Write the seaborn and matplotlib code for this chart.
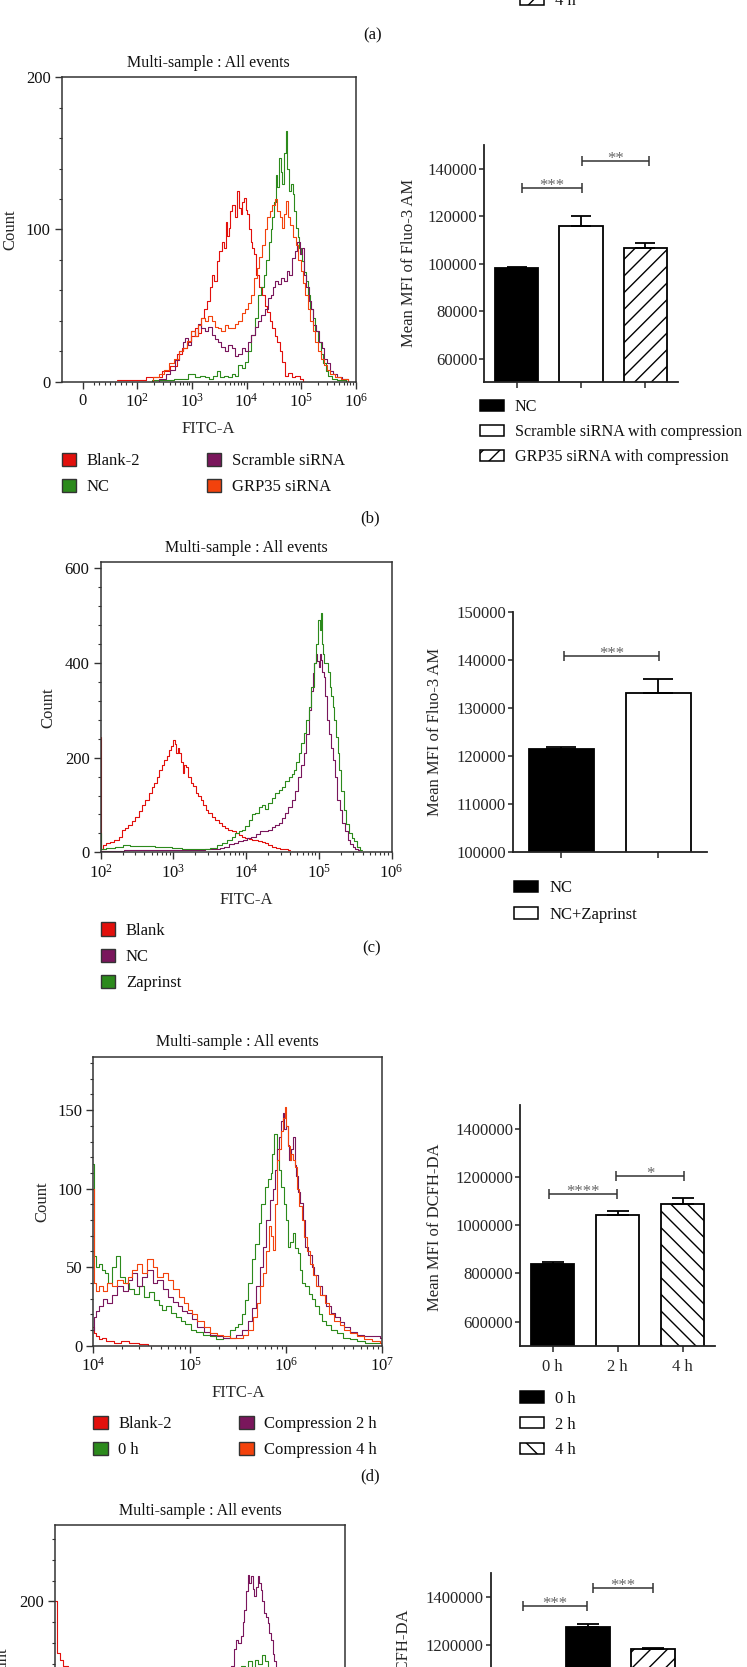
import numpy as np
import matplotlib
matplotlib.use("Agg")
import matplotlib.pyplot as plt
import matplotlib.ticker as mticker
from matplotlib.patches import Patch
import seaborn as sns

# ---------------- data (x as log10 FITC-A, y as count) ----------------
# panel (b) histograms
b_blank_dec = [1.8, 2.35, 2.53, 2.65, 2.78, 2.87, 2.96, 3.02, 3.08, 3.14, 3.2, 3.25, 3.3, 3.35, 3.39, 3.43,
               3.48, 3.52, 3.57, 3.6, 3.63, 3.66, 3.69, 3.72, 3.76, 3.8, 3.85, 3.88, 3.91, 3.94, 3.97, 4.0,
               4.03, 4.06, 4.09, 4.12, 4.15, 4.21, 4.26, 4.31, 4.36, 4.4, 4.45, 4.49, 4.54, 4.58, 4.63, 4.67,
               4.73, 4.8, 4.86, 4.93, 5.01, 5.07]
b_blank_cnt = [1, 3, 7, 10, 18, 22, 26, 30, 35, 32, 42, 48, 53, 62, 70, 66,
               79, 86, 92, 88, 105, 96, 101, 112, 116, 108, 125, 114, 110, 118, 121, 113,
               110, 100, 92, 88, 84, 70, 62, 57, 50, 46, 40, 35, 30, 26, 20, 13,
               4, 6, 3, 4, 2, 0]
b_nc_dec = [1.8, 2.5, 2.8, 3.02, 3.1, 3.2, 3.27, 3.35, 3.42, 3.48, 3.55, 3.62, 3.7, 3.76, 3.82, 3.88,
            3.94, 4.0, 4.06, 4.12, 4.18, 4.24, 4.29, 4.34, 4.39, 4.43, 4.46, 4.49, 4.52, 4.55, 4.58, 4.61,
            4.64, 4.67, 4.7, 4.73, 4.76, 4.8, 4.83, 4.86, 4.89, 4.92, 4.95, 4.98, 5.01, 5.04, 5.07, 5.1,
            5.15, 5.19, 5.24, 5.28, 5.33, 5.38, 5.43, 5.47, 5.53, 5.59, 5.71, 5.9]
b_nc_cnt = [0, 1, 2, 5, 3, 4, 3, 2, 4, 7, 3, 4, 3, 5, 4, 11,
            9, 13, 20, 31, 42, 57, 62, 70, 80, 92, 100, 108, 118, 136, 128, 147,
            138, 130, 150, 165, 140, 125, 130, 123, 112, 101, 95, 88, 84, 79, 72, 66,
            57, 48, 42, 33, 26, 18, 12, 7, 4, 2, 1, 0]
b_scr_dec = [2.3, 2.47, 2.56, 2.65, 2.73, 2.81, 2.86, 2.9, 2.96, 3.02, 3.08, 3.14, 3.2, 3.27, 3.33, 3.39,
             3.45, 3.51, 3.57, 3.63, 3.7, 3.76, 3.82, 3.88, 3.94, 4.0, 4.06, 4.12, 4.18, 4.24, 4.3, 4.37,
             4.42, 4.46, 4.5, 4.55, 4.6, 4.67, 4.72, 4.76, 4.81, 4.86, 4.9, 4.95, 5.01, 5.04, 5.07, 5.12,
             5.16, 5.2, 5.25, 5.3, 5.35, 5.4, 5.44, 5.5, 5.56, 5.62, 5.68, 5.8, 5.9]
b_scr_cnt = [0, 2, 5, 8, 14, 20, 26, 29, 24, 33, 30, 38, 35, 33, 36, 31,
             28, 26, 23, 20, 24, 22, 17, 18, 22, 20, 26, 31, 36, 40, 44, 48,
             55, 57, 62, 66, 64, 68, 66, 73, 70, 81, 86, 92, 84, 88, 70, 62,
             53, 48, 37, 33, 26, 22, 15, 12, 7, 5, 3, 2, 0]
b_grp_dec = [2.2, 2.35, 2.45, 2.53, 2.62, 2.72, 2.8, 2.87, 2.95, 3.02, 3.08, 3.14, 3.2, 3.27, 3.33, 3.39,
             3.45, 3.51, 3.57, 3.63, 3.7, 3.76, 3.82, 3.88, 3.94, 4.0, 4.06, 4.12, 4.17, 4.21, 4.26, 4.31,
             4.36, 4.4, 4.45, 4.49, 4.54, 4.58, 4.63, 4.67, 4.7, 4.73, 4.78, 4.83, 4.88, 4.92, 4.97, 5.01,
             5.06, 5.1, 5.15, 5.19, 5.24, 5.28, 5.33, 5.38, 5.44, 5.5, 5.57, 5.65, 5.8, 5.9]
b_grp_cnt = [0, 3, 5, 8, 12, 15, 20, 22, 27, 33, 30, 37, 42, 40, 43, 40,
             36, 35, 33, 37, 35, 35, 38, 40, 45, 48, 52, 57, 68, 75, 82, 90,
             100, 108, 112, 116, 120, 112, 108, 101, 110, 119, 108, 103, 95, 90, 80, 73,
             65, 57, 48, 40, 33, 26, 20, 15, 11, 8, 5, 3, 2, 0]

# panel (c) histograms
c_blank_dec = [2.0, 2.01, 2.05, 2.1, 2.15, 2.22, 2.27, 2.31, 2.36, 2.4, 2.45, 2.5, 2.55, 2.59, 2.64, 2.68,
               2.72, 2.75, 2.79, 2.82, 2.86, 2.89, 2.92, 2.95, 2.98, 3.0, 3.03, 3.05, 3.07, 3.09, 3.12, 3.14,
               3.16, 3.18, 3.22, 3.25, 3.29, 3.32, 3.36, 3.39, 3.43, 3.46, 3.5, 3.55, 3.6, 3.64, 3.69, 3.73,
               3.78, 3.83, 3.88, 3.92, 3.97, 4.01, 4.06, 4.1, 4.15, 4.19, 4.24, 4.28, 4.33, 4.38, 4.44, 4.49,
               4.55, 4.61]
c_blank_cnt = [244, 8, 15, 19, 22, 26, 33, 47, 52, 58, 66, 75, 88, 100, 110, 125,
               138, 146, 160, 174, 185, 195, 203, 216, 225, 237, 228, 209, 220, 209, 190, 167,
               185, 181, 160, 146, 140, 125, 118, 111, 100, 89, 82, 75, 68, 61, 55, 51,
               47, 44, 40, 37, 33, 30, 28, 26, 25, 23, 21, 19, 15, 12, 10, 8,
               6, 5]
c_nc_dec = [2.0, 2.5, 3.0, 3.37, 3.5, 3.6, 3.67, 3.73, 3.8, 3.86, 3.92, 3.98, 4.04, 4.1, 4.16, 4.22,
            4.28, 4.33, 4.38, 4.42, 4.47, 4.52, 4.56, 4.6, 4.65, 4.69, 4.74, 4.78, 4.81, 4.84, 4.88, 4.91,
            4.93, 4.95, 4.97, 4.99, 5.01, 5.03, 5.04, 5.06, 5.08, 5.1, 5.13, 5.16, 5.18, 5.2, 5.24, 5.27,
            5.3, 5.34, 5.38, 5.41, 5.45, 5.48, 5.52, 5.57]
c_nc_cnt = [3, 4, 5, 5, 6, 8, 10, 12, 17, 20, 23, 26, 30, 33, 38, 44,
            44, 48, 54, 57, 62, 72, 82, 96, 110, 130, 160, 185, 209, 250, 301, 340,
            378, 400, 420, 405, 392, 420, 406, 380, 371, 330, 280, 250, 220, 195, 160, 111,
            90, 61, 45, 26, 18, 12, 8, 5]
c_zap_dec = [2.0, 2.01, 2.13, 2.25, 2.35, 2.45, 2.55, 2.68, 2.8, 2.91, 3.05, 3.18, 3.3, 3.46, 3.55, 3.64,
             3.7, 3.78, 3.83, 3.87, 3.92, 3.96, 4.01, 4.06, 4.1, 4.15, 4.2, 4.24, 4.28, 4.33, 4.38, 4.42,
             4.47, 4.51, 4.56, 4.61, 4.64, 4.67, 4.71, 4.74, 4.78, 4.81, 4.85, 4.88, 4.91, 4.95, 4.98, 5.0,
             5.02, 5.03, 5.05, 5.06, 5.09, 5.11, 5.14, 5.16, 5.18, 5.2, 5.23, 5.25, 5.27, 5.29, 5.33, 5.36,
             5.4, 5.43, 5.47, 5.5, 5.55, 5.59]
c_zap_cnt = [40, 8, 10, 12, 15, 14, 13, 13, 11, 11, 9, 8, 7, 6, 10, 15,
             20, 26, 33, 40, 45, 47, 55, 68, 80, 82, 96, 100, 92, 104, 115, 125,
             132, 139, 150, 160, 165, 174, 190, 209, 230, 251, 280, 308, 350, 399, 440, 491,
             470, 505, 440, 420, 400, 399, 380, 350, 330, 308, 280, 244, 210, 174, 130, 89,
             60, 40, 30, 23, 12, 5]

# panel (d) histograms
d_blank_dec = [4.0, 4.01, 4.04, 4.07, 4.1, 4.17, 4.25, 4.32, 4.42, 4.52, 4.62, 4.7]
d_blank_cnt = [12, 8, 6, 4, 5, 3, 2, 3, 1.5, 1, 0, 0]
d_0h_dec = [4.0, 4.01, 4.04, 4.07, 4.1, 4.14, 4.17, 4.22, 4.26, 4.3, 4.35, 4.4, 4.45, 4.5, 4.55, 4.6,
            4.66, 4.7, 4.73, 4.78, 4.83, 4.88, 4.93, 4.98, 5.04, 5.1, 5.18, 5.24, 5.31, 5.38, 5.45, 5.49,
            5.52, 5.56, 5.59, 5.63, 5.66, 5.7, 5.73, 5.76, 5.8, 5.83, 5.85, 5.87, 5.89, 5.92, 5.94, 5.96,
            5.99, 6.01, 6.03, 6.06, 6.08, 6.11, 6.13, 6.16, 6.18, 6.22, 6.25, 6.29, 6.32, 6.36, 6.39, 6.44,
            6.49, 6.56, 6.63, 6.7, 6.77, 6.87, 6.98]
d_0h_cnt = [116, 57, 50, 52, 48, 46, 40, 50, 57, 44, 40, 36, 33, 38, 31, 34,
            29, 26, 23, 25, 21, 18, 16, 14, 10, 9, 7, 6, 4, 5, 10, 12,
            14, 20, 29, 40, 55, 65, 78, 90, 101, 106, 110, 122, 135, 118, 112, 101,
            90, 80, 63, 66, 72, 62, 59, 48, 40, 38, 33, 30, 25, 20, 16, 13,
            10, 8, 5, 4, 3, 2, 1.5]
d_2h_dec = [4.0, 4.01, 4.04, 4.07, 4.12, 4.17, 4.22, 4.28, 4.33, 4.38, 4.43, 4.48, 4.53, 4.59, 4.64, 4.69,
            4.75, 4.8, 4.85, 4.9, 4.95, 5.0, 5.05, 5.11, 5.18, 5.25, 5.32, 5.38, 5.45, 5.52, 5.57, 5.63,
            5.67, 5.71, 5.75, 5.78, 5.81, 5.85, 5.88, 5.9, 5.92, 5.94, 5.96, 5.97, 5.99, 6.01, 6.03, 6.04,
            6.06, 6.08, 6.1, 6.11, 6.14, 6.16, 6.19, 6.21, 6.25, 6.28, 6.31, 6.35, 6.4, 6.44, 6.49, 6.53,
            6.58, 6.63, 6.7, 6.77, 6.85, 6.94, 7.0]
d_2h_cnt = [10, 18, 22, 25, 30, 27, 32, 38, 35, 42, 46, 38, 44, 48, 40, 42,
            36, 31, 28, 25, 22, 21, 17, 12, 9, 7, 6, 5, 5, 7, 10, 16,
            24, 38, 50, 63, 80, 93, 100, 112, 125, 133, 143, 148, 138, 140, 128, 118,
            125, 133, 115, 108, 98, 91, 80, 63, 58, 50, 45, 38, 32, 25, 21, 18,
            15, 12, 9, 7, 6, 6, 5]
d_4h_dec = [4.0, 4.01, 4.04, 4.07, 4.12, 4.17, 4.22, 4.28, 4.33, 4.38, 4.43, 4.48, 4.53, 4.59, 4.64, 4.69,
            4.75, 4.8, 4.86, 4.92, 4.96, 5.0, 5.05, 5.11, 5.18, 5.25, 5.32, 5.38, 5.45, 5.52, 5.58, 5.64,
            5.68, 5.71, 5.75, 5.78, 5.81, 5.83, 5.86, 5.88, 5.9, 5.92, 5.94, 5.96, 5.98, 5.99, 6.01, 6.03,
            6.05, 6.06, 6.08, 6.1, 6.12, 6.15, 6.18, 6.2, 6.23, 6.27, 6.3, 6.33, 6.38, 6.42, 6.47, 6.53,
            6.58, 6.63, 6.7, 6.77, 6.85, 6.94, 7.0]
d_4h_cnt = [100, 40, 35, 38, 35, 40, 38, 42, 40, 44, 48, 52, 46, 55, 50, 44,
            46, 42, 36, 31, 27, 23, 20, 16, 12, 8, 7, 6, 5, 5, 7, 10,
            18, 27, 38, 46, 60, 76, 70, 61, 90, 118, 125, 137, 145, 152, 140, 127,
            118, 122, 118, 114, 100, 89, 80, 69, 60, 52, 45, 38, 32, 27, 20, 16,
            13, 10, 8, 6, 4, 3, 2]

# panel (e) histograms (only the top is in view)
e_red_dec = [2.0, 2.06, 2.11, 2.17, 2.26, 2.4, 2.6]
e_red_cnt = [200, 151, 144, 138, 110, 60, 20]
e_purple_dec = [4.4, 4.7, 4.9, 5.0, 5.07, 5.1, 5.13, 5.18, 5.22, 5.25, 5.28, 5.31, 5.33, 5.36, 5.39, 5.42,
                5.45, 5.48, 5.51, 5.54, 5.56, 5.59, 5.62, 5.65, 5.68, 5.71, 5.74, 5.77, 5.79, 5.83, 5.88, 6.0,
                6.2, 6.5]
e_purple_cnt = [5, 20, 60, 100, 138, 155, 163, 160, 167, 180, 192, 210, 225, 218, 224, 212,
                205, 214, 224, 218, 211, 200, 189, 185, 179, 170, 163, 150, 143, 132, 119, 80,
                30, 5]
e_green_dec = [4.6, 5.0, 5.15, 5.25, 5.3, 5.36, 5.42, 5.48, 5.53, 5.59, 5.65, 5.7, 5.74, 5.85, 6.1]
e_green_cnt = [5, 60, 110, 138, 130, 143, 135, 144, 140, 149, 143, 135, 125, 90, 20]

# bar charts
b_groups = ["NC", "Scramble siRNA with compression", "GRP35 siRNA with compression"]
b_mean = [98000, 116000, 106500]
b_err = [500, 4000, 2100]
c_groups = ["NC", "NC+Zaprinst"]
c_mean = [121400, 133100]
c_err = [500, 2800]
d_groups = ["0 h", "2 h", "4 h"]
d_mean = [840000, 1041700, 1089000]
d_err = [8700, 19300, 23500]
e_groups = ["g1", "g2", "g3"]
e_mean = [1000000, 1277000, 1182000]
e_err = [15000, 11000, 5000]
a_groups = ["0 h", "2 h", "4 h"]

# ---------------- style ----------------
sns.set_style("ticks")
plt.rcParams["font.family"] = ["Liberation Serif", "DejaVu Serif"]
plt.rcParams["mathtext.fontset"] = "custom"
plt.rcParams["mathtext.rm"] = "Liberation Serif"
plt.rcParams["mathtext.it"] = "Liberation Serif:italic"
plt.rcParams["hatch.linewidth"] = 1.0
plt.rcParams["text.color"] = "#111111"

RED, GREEN, PURPLE, ORANGE = "#e2100c", "#2c8a1c", "#7a165c", "#f3420c"
FS = 12
W, H = 747, 1667
fig = plt.figure(figsize=(W / 100, H / 100), dpi=100)


def px_axes(x0, y0, x1, y1):
    return fig.add_axes([x0 / W, 1 - y1 / H, (x1 - x0) / W, (y1 - y0) / H])


def px_legend(handles, labels, x, yc, ncol=1, hl=0.86, hh=0.84, sp=0.59, colsp=4.0, fs=FS):
    fig.legend(handles, labels, loc="upper left", bbox_to_anchor=(x / W, 1 - (yc - 7.6) / H),
               bbox_transform=fig.transFigure, frameon=False, borderpad=0, borderaxespad=0,
               handlelength=hl, handleheight=hh, handletextpad=0.65, labelspacing=sp,
               columnspacing=colsp, ncol=ncol, fontsize=fs)


def hist_panel(ax, curves, ylim, yticks, yminor):
    for dec, cnt, col in curves:
        sns.lineplot(x=10 ** np.array(dec), y=cnt, color=col, linewidth=0.8,
                     drawstyle="steps-mid", estimator=None, sort=False, ax=ax)
    ax.set_ylim(*ylim)
    ax.set_yticks(yticks)
    ax.yaxis.set_minor_locator(mticker.MultipleLocator(yminor))
    for s in ax.spines.values():
        s.set_linewidth(1.1)
        s.set_color("#333333")
    ax.tick_params(which="both", direction="out", top=False, right=False, colors="#333333",
                   labelcolor="#111111")
    ax.tick_params(which="major", length=5, width=1, labelsize=FS, pad=3)
    ax.tick_params(which="minor", length=2.5, width=0.8)
    ax.set_ylabel("Count", fontsize=FS)
    ax.set_title("Multi-sample : All events", fontsize=FS - 0.5, pad=7.5)


def log_ticks(ax, lo, hi, labels=True):
    ax.set_xscale("log")
    ax.set_xlim(10 ** lo, 10 ** hi)
    ax.set_xticks([10 ** k for k in range(lo, hi + 1)])
    if labels:
        ax.set_xticklabels([r"$\mathregular{10^{%d}}$" % k for k in range(lo, hi + 1)])
        ax.set_xlabel("FITC-A", fontsize=FS)
    else:
        ax.set_xticklabels([])
        ax.set_xlabel("")
    ax.xaxis.set_minor_locator(mticker.LogLocator(base=10, subs=np.arange(2, 10)))
    ax.xaxis.set_minor_formatter(mticker.NullFormatter())


def sig(ax, x1, x2, y, label):
    ax.plot([x1, x2], [y, y], color="#333333", lw=1.1, marker="|", markersize=7,
            markeredgewidth=1.1, solid_capstyle="butt")
    ax.annotate(label, xy=((x1 + x2) / 2, y), xytext=(0, -1.5), textcoords="offset points",
                ha="center", va="baseline", fontsize=FS, color="#666666")


def bar_panel(ax, groups, means, errs, fills, hatches, capsize, ylim, yticks, ylabel, xlabels):
    sns.barplot(x=groups, y=means, hue=groups, palette=fills, width=0.67, edgecolor="black",
                linewidth=1.3, saturation=1, legend=False, errorbar=None, ax=ax)
    for patch, h in zip(ax.patches, hatches):
        patch.set_hatch(h)
    ax.errorbar(range(len(means)), means, yerr=[np.zeros(len(errs)), errs], fmt="none",
                ecolor="black", elinewidth=1.3, capsize=capsize, capthick=1.3, zorder=3)
    ax.set_xlim(-0.5, len(groups) - 0.5)
    ax.set_ylim(*ylim)
    ax.set_yticks(yticks)
    ax.yaxis.set_major_formatter(mticker.StrMethodFormatter("{x:.0f}"))
    ax.set_xticks(range(len(groups)))
    ax.set_xticklabels(xlabels)
    sns.despine(ax=ax)
    for s in ("left", "bottom"):
        ax.spines[s].set_linewidth(1.3)
        ax.spines[s].set_color("#222222")
    ax.tick_params(axis="y", direction="out", length=3.5, width=1.1, labelsize=FS, pad=1.5)
    ax.tick_params(axis="x", direction="out", length=4.3, width=1.1, labelsize=FS, pad=5)
    ax.set_xlabel("")
    ax.set_ylabel(ylabel, fontsize=FS)


def sq(c):
    return Patch(facecolor=c, edgecolor="#333333", linewidth=1)


def barpatch(c, h=""):
    return Patch(facecolor=c, edgecolor="black", linewidth=1.1, hatch=h)


# ---------------- panel (a) fragment ----------------
px_legend([barpatch("black"), barpatch("white"), barpatch("white", "//")], a_groups,
          520, -51, hl=1.44, hh=0.69, sp=0.59)
fig.text(373 / W, 1 - 35 / H, "(a)", ha="center", va="center", fontsize=FS)

# ---------------- panel (b) ----------------
ax = px_axes(61.7, 77.3, 355.7, 381.7)
hist_panel(ax, [(b_blank_dec, b_blank_cnt, RED), (b_nc_dec, b_nc_cnt, GREEN),
                (b_scr_dec, b_scr_cnt, PURPLE), (b_grp_dec, b_grp_cnt, ORANGE)],
           (0, 200), [0, 100, 200], 20)
ax.set_xscale("symlog", linthresh=100, linscale=0.9)
ax.set_xlim(-38.5, 1e6)
ax.set_xticks([0] + [10 ** k for k in range(2, 7)])
ax.set_xticklabels(["0"] + [r"$\mathregular{10^{%d}}$" % k for k in range(2, 7)])
ax.xaxis.set_minor_locator(mticker.FixedLocator([m * 10 ** k for k in range(1, 6) for m in range(2, 10)]))
ax.xaxis.set_minor_formatter(mticker.NullFormatter())
ax.set_xlabel("FITC-A", fontsize=FS)
ax.yaxis.set_label_coords(-0.147, 0.5)
ax.xaxis.set_label_coords(0.5, -0.129)
px_legend([sq(RED), sq(GREEN), sq(PURPLE), sq(ORANGE)],
          ["Blank-2", "NC", "Scramble siRNA", "GRP35 siRNA"], 61.7, 460.7, ncol=2, sp=0.55, colsp=4.0)

ax = px_axes(484.3, 145, 677.7, 382.3)
bar_panel(ax, b_groups, b_mean, b_err, ["black", "white", "white"], ["", "", "//"], 7.5,
          (50000, 150000), [60000, 80000, 100000, 120000, 140000], "Mean MFI of Fluo-3 AM",
          ["", "", ""])
sig(ax, 0.08, 1.02, 131800, "***")
sig(ax, 1.02, 2.06, 143100, "**")
ax.yaxis.set_label_coords(-0.346, 0.503)
px_legend([barpatch("black"), barpatch("white"), barpatch("white", "//")], b_groups,
          480, 406.5, hl=1.52, hh=0.71, sp=0.56, fs=11.6)
fig.text(370 / W, 1 - 518.3 / H, "(b)", ha="center", va="center", fontsize=FS)

# ---------------- panel (c) ----------------
ax = px_axes(100.7, 562.3, 391.5, 852.3)
hist_panel(ax, [(c_blank_dec, c_blank_cnt, RED), (c_nc_dec, c_nc_cnt, PURPLE),
                (c_zap_dec, c_zap_cnt, GREEN)], (0, 612.7), [0, 200, 400, 600], 40)
log_ticks(ax, 2, 6)
ax.yaxis.set_label_coords(-0.151, 0.5)
ax.xaxis.set_label_coords(0.5, -0.136)
px_legend([sq(RED), sq(PURPLE), sq(GREEN)], ["Blank", "NC", "Zaprinst"], 100.7, 930, sp=0.59)

ax = px_axes(512.7, 611.7, 706.7, 851.7)
bar_panel(ax, c_groups, c_mean, c_err, ["black", "white"], ["", ""], 10.8,
          (100000, 150000), [100000, 110000, 120000, 130000, 140000, 150000],
          "Mean MFI of Fluo-3 AM", ["", ""])
sig(ax, 0.03, 1.01, 140770, "***")
ax.yaxis.set_label_coords(-0.358, 0.5)
px_legend([barpatch("black"), barpatch("white")], c_groups, 514.3, 888, hl=1.44, hh=0.69, sp=0.63)
fig.text(371.7 / W, 1 - 948.3 / H, "(c)", ha="center", va="center", fontsize=FS)

# ---------------- panel (d) ----------------
ax = px_axes(93.3, 1056.7, 382.3, 1345.7)
hist_panel(ax, [(d_blank_dec, d_blank_cnt, RED), (d_0h_dec, d_0h_cnt, GREEN),
                (d_2h_dec, d_2h_cnt, PURPLE), (d_4h_dec, d_4h_cnt, ORANGE)], (0, 184),
           [0, 50, 100, 150], 10)
log_ticks(ax, 4, 7)
ax.yaxis.set_label_coords(-0.15, 0.498)
ax.xaxis.set_label_coords(0.5, -0.136)
px_legend([sq(RED), sq(GREEN), sq(PURPLE), sq(ORANGE)],
          ["Blank-2", "0 h", "Compression 2 h", "Compression 4 h"], 93.3, 1423.3, ncol=2,
          sp=0.59, colsp=4.04)

ax = px_axes(520, 1105, 715, 1345.7)
bar_panel(ax, d_groups, d_mean, d_err, ["black", "white", "white"], ["", "", "\\\\"], 8,
          (500000, 1500000), [600000, 800000, 1000000, 1200000, 1400000], "Mean MFI of DCFH-DA",
          d_groups)
sig(ax, -0.06, 0.99, 1130800, "****")
sig(ax, 0.98, 2.02, 1207000, "*")
ax.yaxis.set_label_coords(-0.396, 0.494)
px_legend([barpatch("black"), barpatch("white"), barpatch("white", "\\\\")], d_groups,
          520, 1398.3, hl=1.44, hh=0.69, sp=0.59)
fig.text(370 / W, 1 - 1476 / H, "(d)", ha="center", va="center", fontsize=FS)

# ---------------- panel (e) top part ----------------
ax = px_axes(55, 1525, 345, 1811)
hist_panel(ax, [(e_red_dec, e_red_cnt, RED), (e_purple_dec, e_purple_cnt, PURPLE),
                (e_green_dec, e_green_cnt, GREEN)], (0, 273), [200], 20)
log_ticks(ax, 2, 7, labels=False)
ax.yaxis.set_label_coords(-0.155, 0.5)

ax = px_axes(490.7, 1572.7, 685.7, 1814.2)
bar_panel(ax, e_groups, e_mean, e_err, ["white", "black", "white"], ["", "", "//"], 8,
          (500000, 1500000), [1200000, 1400000], "Mean MFI of DCFH-DA", ["", "", ""])
sig(ax, 0.0, 0.98, 1364000, "***")
sig(ax, 1.08, 1.99, 1437000, "***")
ax.yaxis.set_label_coords(-0.405, 0.5)

fig.savefig("out.png", dpi=100)
